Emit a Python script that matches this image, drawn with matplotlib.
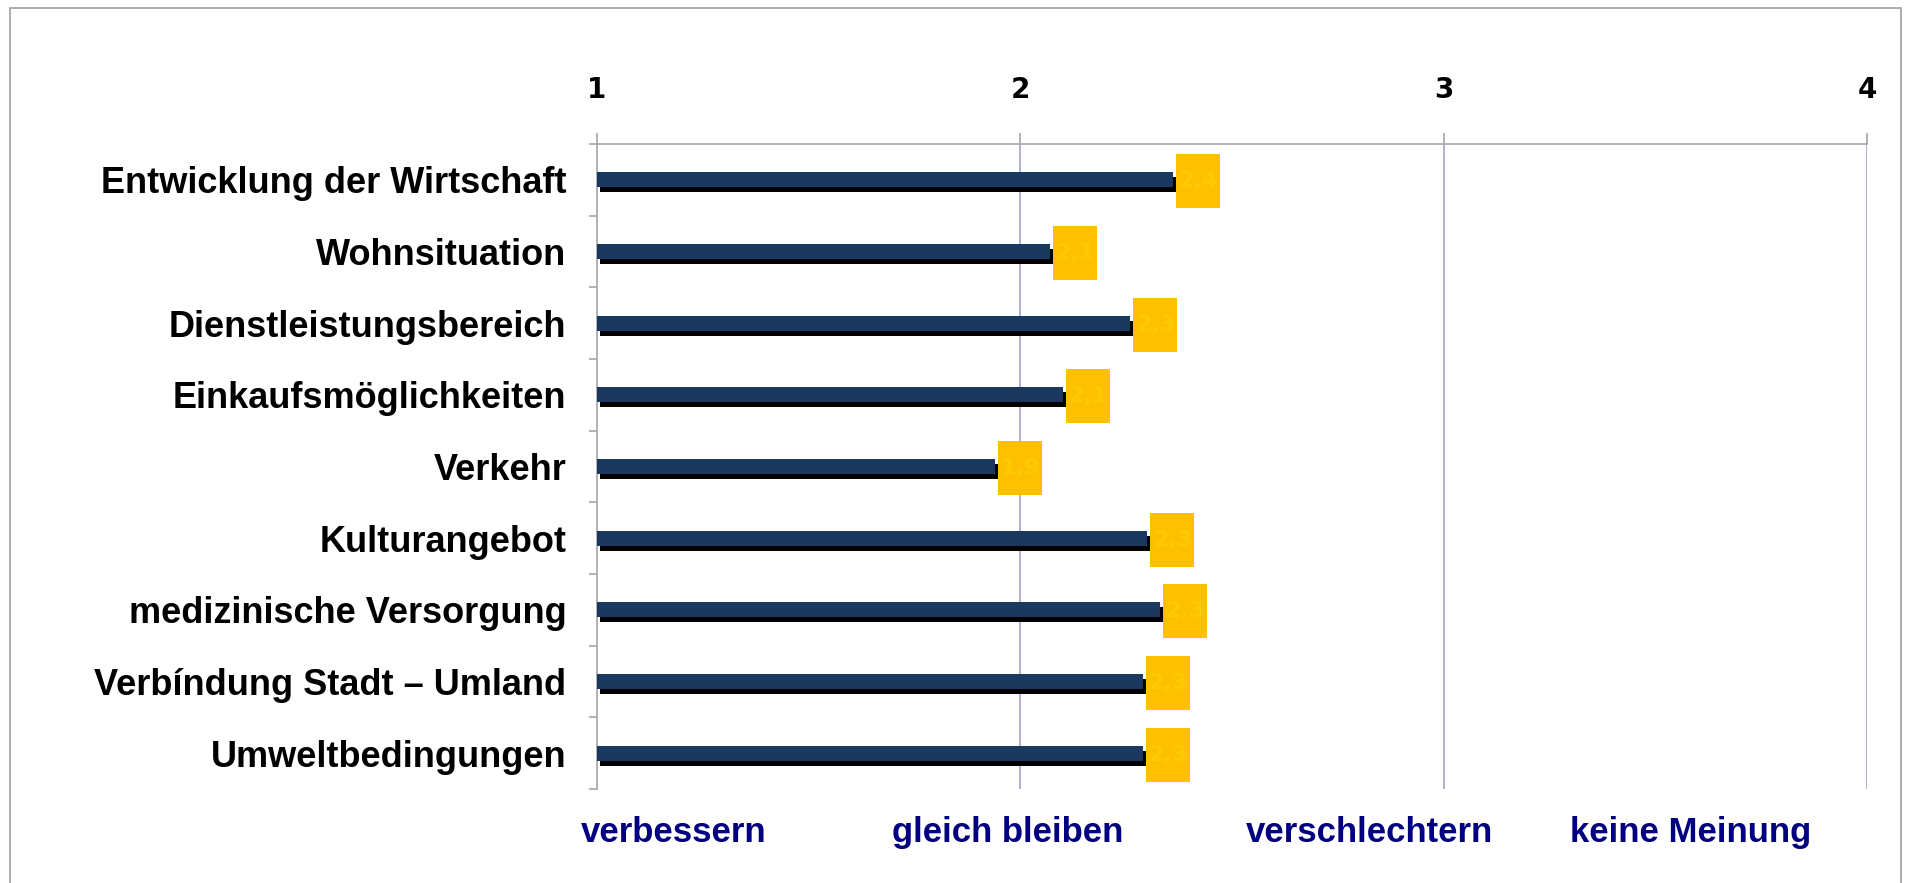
import matplotlib
matplotlib.use("Agg")
import matplotlib.pyplot as plt
import numpy as np
from matplotlib.patches import Rectangle
from matplotlib import transforms

categories = ["Entwicklung der Wirtschaft", "Wohnsituation", "Dienstleistungsbereich",
              "Einkaufsmöglichkeiten", "Verkehr", "Kulturangebot",
              "medizinische Versorgung", "Verbíndung Stadt – Umland", "Umweltbedingungen"]
values = [2.36, 2.07, 2.26, 2.10, 1.94, 2.30, 2.33, 2.29, 2.29]
value_labels = ["2,4", "2,1", "2,3", "2,1", "1,9", "2,3", "2,3", "2,3", "2,3"]
scale_ticks = [1, 2, 3, 4]
scale_names = ["verbessern", "gleich bleiben", "verschlechtern", "keine Meinung"]
scale_name_x = [0.963, 1.697, 2.532, 3.298]

navy = "#1B385F"
yellow = "#FFC000"
label_yellow = "#FFCB00"
grid_col = "#A4A4C6"
axis_col = "#A6A6A6"

fig = plt.figure(figsize=(19.1, 8.83), dpi=100)
ax = fig.add_axes([597 / 1910, 94 / 883, 1270 / 1910, 645 / 883])

# outer frame
fig.patches.append(Rectangle((10 / 1910, -0.05), 1891 / 1910, 1.05 - 8 / 883,
                             transform=fig.transFigure, fill=False,
                             edgecolor="#A0A0A0", linewidth=1.2))

y = np.arange(len(categories))
widths = np.array(values) - 1

# sizes in data units (axes is 423.3 px per unit, 71.7 px per row)
px_x = 1 / 423.3
px_y = 1 / 71.7
bar_h = 15 * px_y

# shadow, then bar
ax.barh(y + 5 * px_y, widths, left=1 + 3 * px_x, height=bar_h, color="black", zorder=3)
ax.barh(y, widths, left=1, height=bar_h, color=navy, zorder=4)

# value boxes
box_w = 44 * px_x
box_h = 54 * px_y
ax.barh(y + 1.5 * px_y, [box_w] * len(values), left=np.array(values) + 3 * px_x,
        height=box_h, color=yellow, zorder=5)
for i, (v, lab) in enumerate(zip(values, value_labels)):
    ax.text(v + 3 * px_x + box_w / 2, i + 1.5 * px_y, lab, ha="center", va="center",
            fontsize=16, fontweight="bold", color=label_yellow,
            family="DejaVu Sans", zorder=6)

ax.set_xlim(1, 4)
ax.set_ylim(len(categories) - 0.5, -0.5)

# gridlines at 2,3,4
for t in scale_ticks[1:]:
    ax.axvline(t, color=grid_col, linewidth=1.2, zorder=1)

for s in ["right", "bottom"]:
    ax.spines[s].set_visible(False)
ax.spines["top"].set_color(axis_col)
ax.spines["left"].set_color(axis_col)
ax.spines["top"].set_linewidth(1.2)
ax.spines["left"].set_linewidth(1.2)

ax.set_xticks(scale_ticks)
ax.tick_params(axis="x", which="major", top=True, bottom=False, labeltop=True,
               labelbottom=False, direction="out", length=8, width=1.2,
               color=axis_col, pad=21, labelsize=20)
for tick in ax.xaxis.get_major_ticks():
    tick.label2.set_fontweight("bold")
    tick.label2.set_family("DejaVu Sans")

ax.set_yticks(y)
ax.set_yticklabels(categories, fontsize=26, fontweight="bold",
                   family=["Liberation Sans", "DejaVu Sans"])
ax.set_yticks(np.arange(-0.5, len(categories)), minor=True)
ax.tick_params(axis="y", which="major", length=0, pad=22)
ax.tick_params(axis="y", which="minor", direction="out", length=5.5, width=1.2,
               color=axis_col)

# scale descriptions underneath
trans = transforms.blended_transform_factory(ax.transData, ax.transAxes)
for x, name in zip(scale_name_x, scale_names):
    ax.text(x, -53 / 645, name, transform=trans, ha="left", va="baseline",
            fontsize=25, fontweight="bold", color="#000080",
            family=["Liberation Sans", "DejaVu Sans"], clip_on=False)

fig.savefig("out.png", dpi=100)
